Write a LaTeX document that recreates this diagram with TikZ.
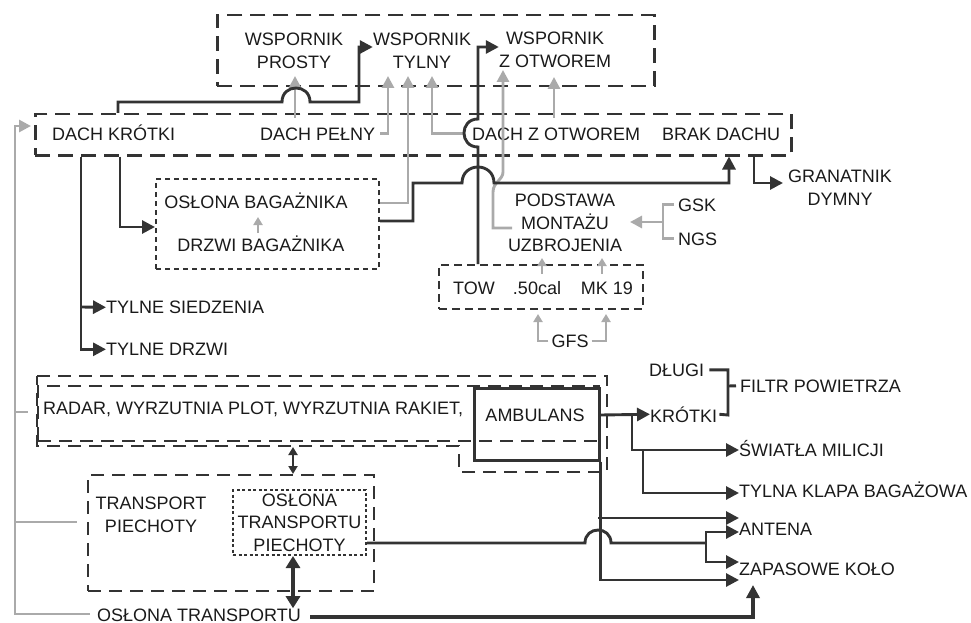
\documentclass[tikz,border=0pt]{standalone}
\usepackage{fontspec}
\setmainfont{Liberation Sans}
\usetikzlibrary{arrows.meta}
\definecolor{dk}{HTML}{333333}
\definecolor{gy}{HTML}{AAAAAA}
\definecolor{tx}{HTML}{1A1A1A}
\begin{document}
\begin{tikzpicture}[x=1pt,y=-1pt,
  lbl/.style={font=\fontsize{18}{22.5}\selectfont, text=tx, inner sep=0pt},
  mlbl/.style={lbl, align=center, anchor=north},
  dkl/.style={draw=dk, line width=2.9pt},
  gyl/.style={draw=gy, line width=2.9pt},
  dka/.style={dkl, -{Triangle[length=13pt,width=13pt]}},
  gya/.style={gyl, -{Triangle[length=12pt,width=12pt]}},
  gys/.style={draw=gy, line width=2pt, -{Triangle[length=8pt,width=9pt]}},
  boxbase/.style={anchor=north west, inner sep=0pt},
  bigdash/.style={boxbase, draw=dk, line width=2.5pt, dash pattern=on 15pt off 8pt},
  middash/.style={boxbase, draw=dk, line width=2.3pt, dash pattern=on 13pt off 8pt},
  smalldash/.style={boxbase, draw=dk, line width=1.7pt, dash pattern=on 8pt off 5pt},
  dotbox/.style={boxbase, draw=dk, line width=2pt, dash pattern=on 5pt off 4pt},
  finedot/.style={draw=dk, line width=2pt, dash pattern=on 3pt off 2.5pt},
  solidbox/.style={boxbase, draw=dk, line width=2.7pt}
]
\useasboundingbox (0,0) rectangle (971,623);

% ---------- boxes ----------
\node[bigdash, minimum width=437pt, minimum height=71pt] (topbox) at (216,14) {};
\node[bigdash, minimum width=756pt, minimum height=41pt] (roof) at (34,113) {};
\node[dotbox, minimum width=223pt, minimum height=90pt] (obbox) at (155,178) {};
\node[smalldash, minimum width=204pt, minimum height=44pt] (towbox) at (438,264) {};
\draw[draw=dk, line width=2.3pt, dash pattern=on 13pt off 8pt]
  (37,376) -- (607,376) -- (607,472) -- (459,472) -- (459,446) -- (37,446) -- cycle;
\node[middash, minimum width=561pt, minimum height=55pt] (radbox) at (37,385) {};
\node[solidbox, minimum width=125pt, minimum height=72pt] (ambbox) at (473,387) {};
\node[middash, minimum width=286pt, minimum height=116pt] (trbox) at (87,474) {};
\node[finedot, lbl, align=center, minimum width=133pt, minimum height=65pt] (otp) at (299.5,522.5) {OSŁONA\\TRANSPORTU\\PIECHOTY};

% ---------- labels ----------
\node[mlbl] (wp) at (294,33) {WSPORNIK\\PROSTY};
\node[mlbl] (wt) at (422,33) {WSPORNIK\\TYLNY};
\node[mlbl] (wz) at (555,32) {WSPORNIK\\Z OTWOREM};
\node[lbl, anchor=base west] (dk) at (52,140) {DACH KRÓTKI};
\node[lbl, anchor=base west] (dp) at (260,140) {DACH PEŁNY};
\node[lbl, anchor=base west] (dz) at (472,140) {DACH Z OTWOREM};
\node[lbl, anchor=base west] (bd) at (662,140) {BRAK DACHU};
\node[lbl, anchor=base] (ob) at (256,208.5) {OSŁONA BAGAŻNIKA};
\node[lbl, anchor=base] (db) at (261,251.5) {DRZWI BAGAŻNIKA};
\node[mlbl] (pmu) at (565,194) {PODSTAWA\\MONTAŻU\\UZBROJENIA};
\node[mlbl] (gd) at (840,170) {GRANATNIK\\DYMNY};
\node[lbl, anchor=base west] (gsk) at (678,211) {GSK};
\node[lbl, anchor=base west] (ngs) at (678,245) {NGS};
\node[lbl, anchor=base] (tow) at (474,294) {TOW};
\node[lbl, anchor=base] (cal) at (537,294) {.50cal};
\node[lbl, anchor=base] (mk) at (607,294) {MK 19};
\node[lbl, anchor=base] (gfs) at (570,347) {GFS};
\node[lbl, anchor=base west] (ts) at (106,313.5) {TYLNE SIEDZENIA};
\node[lbl, anchor=base west] (td) at (106,355.5) {TYLNE DRZWI};
\node[lbl, anchor=base west] (rad) at (43,414) {RADAR, WYRZUTNIA PLOT, WYRZUTNIA RAKIET,};
\node[lbl, anchor=base] (amb) at (535,421) {AMBULANS};
\node[lbl, anchor=base west] (dl) at (649,376) {DŁUGI};
\node[lbl, anchor=base west] (fp) at (740,392) {FILTR POWIETRZA};
\node[lbl, anchor=base west] (kr) at (650,422) {KRÓTKI};
\node[lbl, anchor=base west] (sm) at (739,456) {ŚWIATŁA MILICJI};
\node[lbl, anchor=base west] (tk) at (739,497) {TYLNA KLAPA BAGAŻOWA};
\node[lbl, anchor=base west] (an) at (739,535) {ANTENA};
\node[lbl, anchor=base west] (zk) at (739,575) {ZAPASOWE KOŁO};
\node[lbl, anchor=north, align=center] (tp) at (151,497) {TRANSPORT\\PIECHOTY};
\node[lbl, anchor=base west] (ot) at (97,621) {OSŁONA TRANSPORTU};

% ---------- gray connectors ----------
\draw[gya] (90,614) -- (15,614) -- (15,126) -- (31,126);
\draw[gyl] (15,412) -- (28,412);
\draw[gyl] (15,522) -- (77,522);
\draw[gya] (295,118) -- (295,76);
\draw[gya] ([xshift=5pt]dp.east) -| (388,76);
\draw[gya] (obbox.east |- 0,203) -| (408,76);
\draw[gya] ([xshift=-9pt]dz.west) -| (432,76);
\draw[gya] (512,228) -- (493,228) -- (493,192) .. controls (493,182) and (503,180) .. (503,172) -- (503,70);
\draw[gya] (554,118) -- (554,77);
\draw[gys] (258,233) -- (258,217);
\draw[gys] (542,274) -- (542,258);
\draw[gys] (602,274) -- (602,258);
\draw[gys] ([xshift=-3pt]gfs.west) -| (538,314);
\draw[gys] ([xshift=3pt]gfs.east) -| (606,314);
\draw[gyl] ([xshift=-4pt]gsk.west) -| (663,222) |- ([xshift=-4pt]ngs.west);
\draw[gya] (663,222) -- (630,222);

% ---------- dark connectors ----------
\draw[dka] (118,0 |- roof.north) -- (118,102) -- (282,102)
  .. controls (282,83.3) and (310,83.3) .. (310,102) -- (359,102) -- (359,47) -- (wt.west |- 0,47);
\draw[dka] (478,0 |- towbox.north) -- (478,147)
  .. controls (459.3,147) and (459.3,119) .. (478,119) -- (478,47) -- (wz.west |- 0,47);
\draw[dka] (obbox.east |- 0,221) -- (413,221) -- (413,183) -- (462,183)
  .. controls (462,161.7) and (494,161.7) .. (494,183) -- (729,183) -- (729,0 |- roof.south);
\draw[dka] (754,0 |- roof.south) -- (754,183) -- (783,183);
\draw[dka] (81,0 |- roof.south) |- (td.west);
\draw[dka] (81,307) -- (ts.west);
\draw[dka] (120,0 |- roof.south) |- (obbox.west |- 0,227);

\draw[dka] (ambbox.east |- 0,415) -- (kr.west);
\draw[dka] (632,415) |- (sm.west |- 0,450);
\draw[dka] (643,450) |- (tk.west |- 0,493);
\draw[dka] (ambbox.south east) |- (zk.west |- 0,580);
\draw[dka] (598,518) -- (an.west |- 0,518);
\draw[dkl] (otp.east |- 0,543) -- (585,543)
  .. controls (585,525.7) and (611,525.7) .. (611,543) -- (706,543);
\draw[dka] (706,543) |- (an.west |- 0,532);
\draw[dka] (706,543) |- (zk.west |- 0,562);
\draw[dkl] ([xshift=5pt]dl.east) -| (728,415) -- ([xshift=2pt]kr.east);
\draw[dkl] (728,386) -- ([xshift=-4pt]fp.west);
\draw[dka, line width=3.6pt] (310,617) -- (753,617) -- (753,585);

\draw[draw=dk, line width=2pt, {Triangle[length=8pt,width=9pt]}-{Triangle[length=8pt,width=9pt]}]
  (293,447) -- (293,0 |- trbox.north);
\draw[draw=dk, line width=3.6pt, {Triangle[length=12pt,width=14pt]}-{Triangle[length=12pt,width=14pt]}]
  (293,0 |- otp.south) -- (293,0 |- ot.north);
\end{tikzpicture}
\end{document}
